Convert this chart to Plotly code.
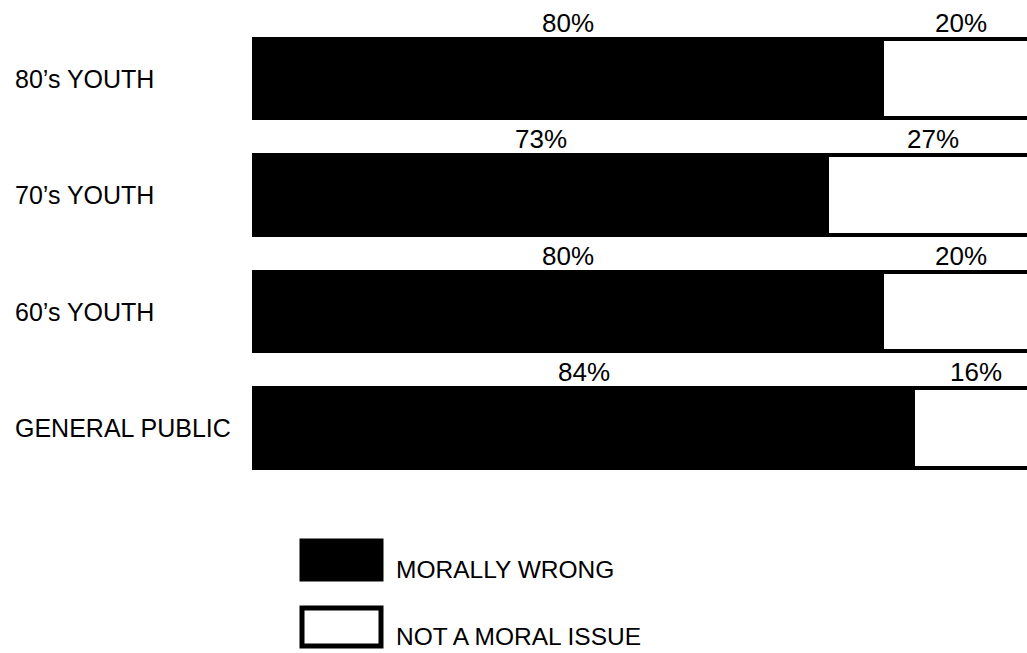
import plotly.graph_objects as go

# Survey groups, top to bottom
groups = ["80\u2019s YOUTH", "70\u2019s YOUTH", "60\u2019s YOUTH", "GENERAL PUBLIC"]
# Share answering each way (%)
morally_wrong = [80, 73, 80, 84]
not_moral_issue = [20, 27, 20, 16]
series_names = ["MORALLY WRONG", "NOT A MORAL ISSUE"]

W, H = 1027, 653
FONT = "Liberation Sans, Arial, Helvetica, sans-serif"

# pixel layout helpers
px_per_unit = 7.85
x_dom0 = 245
x_zero = 254
x_start = -(x_zero - x_dom0) / px_per_unit
x_end = x_start + (W - x_dom0) / px_per_unit
row_step = 116.5
row0 = 78.5
y_top = -row0 / row_step
y_bot = (H - row0) / row_step

fig = go.Figure()
fig.add_trace(go.Bar(
    y=groups, x=morally_wrong, orientation="h", name=series_names[0],
    marker=dict(color="black", line=dict(color="black", width=4)),
    width=0.68, showlegend=False,
))
fig.add_trace(go.Bar(
    y=groups, x=not_moral_issue, orientation="h", name=series_names[1],
    marker=dict(color="white", line=dict(color="black", width=4)),
    width=0.68, showlegend=False,
))

annotations = []
for g, a, b in zip(groups, morally_wrong, not_moral_issue):
    # group name on the left
    annotations.append(dict(
        x=13 / W, xref="paper", y=g, yref="y", text=g, showarrow=False,
        xanchor="left", yanchor="middle",
        font=dict(family=FONT, size=25, color="black"),
    ))
    # percentage labels above each segment
    annotations.append(dict(
        x=a / 2, xref="x", y=g, yref="y", text=f"{a}%", showarrow=False,
        xanchor="center", yanchor="middle", yshift=56,
        font=dict(family=FONT, size=26, color="black"),
    ))
    annotations.append(dict(
        x=a + b / 2, xref="x", y=g, yref="y", text=f"{b}%", showarrow=False,
        xanchor="center", yanchor="middle", yshift=56,
        font=dict(family=FONT, size=26, color="black"),
    ))

# legend swatches and labels
shapes = []
legend_fill = ["black", "white"]
legend_rows = [560, 627]
for name, fill, cy in zip(series_names, legend_fill, legend_rows):
    shapes.append(dict(
        type="rect", xref="paper", yref="paper",
        x0=302 / W, x1=381 / W, y0=1 - (cy - 19) / H, y1=1 - (cy + 19) / H,
        fillcolor=fill, line=dict(color="black", width=5),
    ))
    annotations.append(dict(
        x=394 / W, xref="paper", y=1 - (cy + 9) / H, yref="paper", text=name,
        showarrow=False, xanchor="left", yanchor="middle",
        font=dict(family=FONT, size=24.5, color="black"),
    ))

fig.update_layout(
    width=W, height=H, barmode="stack",
    margin=dict(l=0, r=0, t=0, b=0),
    paper_bgcolor="white", plot_bgcolor="white",
    xaxis=dict(domain=[x_dom0 / W, 1], range=[x_start, x_end], visible=False),
    yaxis=dict(domain=[0, 1], range=[y_bot, y_top], visible=False,
               type="category"),
    annotations=annotations, shapes=shapes,
    bargap=0,
)

fig.write_html("out.html")
